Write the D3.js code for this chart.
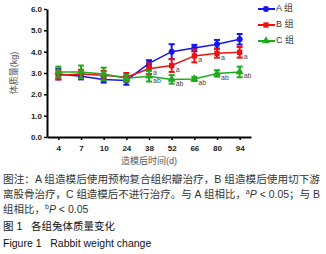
<!DOCTYPE html>
<html lang="zh">
<head>
<meta charset="UTF-8">
<title>各组兔体质量变化</title>
<script src="https://cdn.jsdelivr.net/npm/d3@7"></script>
<style>
  body { margin: 0; background: #fff; }
  svg { display: block; }
</style>
</head>
<body>
<div id="chart"></div>
<script>
// 造模后时间(d)
const days = ['4', '7', '10', '24', '38', '52', '66', '80', '94'];
// 各组体质量均值 (kg)
const groupA = [2.95, 2.85, 2.70, 2.65, 3.45, 4.00, 4.17, 4.35, 4.58];
const groupB = [2.90, 2.95, 2.90, 2.80, 3.20, 3.35, 3.80, 3.92, 3.97];
const groupC = [3.05, 3.05, 2.95, 2.75, 2.85, 2.70, 2.72, 2.98, 3.05];
// 标准差
const errA = [0.25, 0.15, 0.15, 0.20, 0.15, 0.35, 0.15, 0.20, 0.25];
const errB = [0.20, 0.20, 0.20, 0.20, 0.25, 0.30, 0.30, 0.20, 0.25];
const errC = [0.25, 0.30, 0.30, 0.15, 0.25, 0.20, 0.10, 0.15, 0.25];
// 显著性标注
const markB = ['', '', '', '', 'a', 'a', 'a', 'a', 'a'];
const markC = ['', '', '', '', 'ab', 'ab', 'ab', 'ab', 'ab'];
const yTicks = [0, 1, 2, 3, 4, 5, 6];

const groups = [
  { name: 'A 组', values: groupA, err: errA, marks: null, color: '#1515f0', shape: d3.symbolCircle },
  { name: 'B 组', values: groupB, err: errB, marks: markB, color: '#ee1111', shape: d3.symbolSquare },
  { name: 'C 组', values: groupC, err: errC, marks: markC, color: '#1faa1f', shape: d3.symbolTriangle }
];

const width = 326, height = 254;
const latin = '"Liberation Sans", Arial, "Noto Sans CJK SC", sans-serif';

const svg = d3.select('#chart').append('svg')
  .attr('width', width)
  .attr('height', height)
  .style('font-family', latin);

const x = d3.scalePoint().domain(days).range([47, 251]).padding(0.5);
const y = d3.scaleLinear().domain([0, 6]).range([137, 9]);

// 坐标轴
const xAxis = svg.append('g')
  .attr('transform', `translate(0, ${y(0)})`)
  .call(d3.axisBottom(x).tickSize(3).tickSizeOuter(0));
const yAxis = svg.append('g')
  .attr('transform', `translate(${x.range()[0]}, 0)`)
  .call(d3.axisLeft(y).tickValues(yTicks).tickFormat(d3.format('.1f')).tickSize(3).tickSizeOuter(0));

[xAxis, yAxis].forEach(ax => {
  ax.select('.domain').attr('stroke', '#000').attr('stroke-width', 2);
  ax.selectAll('.tick line').attr('stroke', '#000').attr('stroke-width', 1.5);
  ax.selectAll('.tick text')
    .attr('font-size', 8)
    .attr('font-weight', 'bold')
    .attr('fill', '#222')
    .style('font-family', latin);
});
xAxis.selectAll('.tick text').attr('dy', '1.0em');
yAxis.selectAll('.tick text').attr('x', -5);

// 轴标题
svg.append('text')
  .attr('transform', `translate(15, ${y(3)}) rotate(-90)`)
  .attr('text-anchor', 'middle')
  .attr('dominant-baseline', 'middle')
  .attr('font-size', 9)
  .attr('fill', '#555')
  .text('体质量(kg)');

svg.append('text')
  .attr('x', 149)
  .attr('y', 164)
  .attr('text-anchor', 'middle')
  .attr('font-size', 9)
  .attr('fill', '#555')
  .text('造模后时间(d)');

const line = d3.line()
  .x((d, i) => x(days[i]))
  .y(d => y(d));

groups.forEach(g => {
  const layer = svg.append('g');
  layer.append('path')
    .attr('d', line(g.values))
    .attr('fill', 'none')
    .attr('stroke', g.color)
    .attr('stroke-width', 1.5);

  // 误差线
  g.values.forEach((v, i) => {
    const cx = x(days[i]);
    const top = y(v + g.err[i]);
    const bot = y(v - g.err[i]);
    layer.append('line')
      .attr('x1', cx).attr('x2', cx)
      .attr('y1', top).attr('y2', bot)
      .attr('stroke', g.color).attr('stroke-width', 2);
    [top, bot].forEach(cy => {
      layer.append('line')
        .attr('x1', cx - 3).attr('x2', cx + 3)
        .attr('y1', cy).attr('y2', cy)
        .attr('stroke', g.color).attr('stroke-width', 2);
    });
  });

  layer.selectAll('path.pt')
    .data(g.values)
    .enter()
    .append('path')
    .attr('class', 'pt')
    .attr('transform', (d, i) => `translate(${x(days[i])}, ${y(d)})`)
    .attr('d', d3.symbol().type(g.shape).size(28))
    .attr('fill', g.color);

  if (g.marks) {
    layer.selectAll('text.mk')
      .data(g.values)
      .enter()
      .append('text')
      .attr('class', 'mk')
      .attr('x', (d, i) => x(days[i]) + 4)
      .attr('y', d => y(d) + 6.5)
      .attr('font-size', 7)
      .attr('fill', '#444')
      .text((d, i) => g.marks[i]);
  }
});

// 图例
const legend = svg.append('g');
groups.forEach((g, i) => {
  const ly = 9 + i * 16;
  legend.append('line')
    .attr('x1', 258).attr('x2', 275)
    .attr('y1', ly).attr('y2', ly)
    .attr('stroke', g.color).attr('stroke-width', 2);
  legend.append('path')
    .attr('transform', `translate(266, ${ly})`)
    .attr('d', d3.symbol().type(g.shape).size(28))
    .attr('fill', g.color);
  legend.append('text')
    .attr('x', 276)
    .attr('y', ly)
    .attr('dominant-baseline', 'middle')
    .attr('font-size', 9)
    .attr('fill', '#333')
    .text(g.name);
});

// 图注
const cap = svg.append('g')
  .attr('font-size', 10.5)
  .attr('fill', '#333');

cap.append('text')
  .attr('x', 3).attr('y', 183)
  .attr('textLength', 317).attr('lengthAdjust', 'spacingAndGlyphs')
  .text('图注：A 组造模后使用预构复合组织瓣治疗，B 组造模后使用切下游');

const l2 = cap.append('text')
  .attr('x', 3).attr('y', 198)
  .attr('textLength', 317).attr('lengthAdjust', 'spacingAndGlyphs');
l2.append('tspan').text('离股骨治疗，C 组造模后不进行治疗。与 A 组相比，');
l2.append('tspan').attr('font-size', 7).attr('dy', -4).text('a');
l2.append('tspan').attr('font-style', 'italic').attr('dy', 4).text('P');
l2.append('tspan').text(' < 0.05；与 B');

const l3 = cap.append('text')
  .attr('x', 3).attr('y', 213);
l3.append('tspan').text('组相比，');
l3.append('tspan').attr('font-size', 7).attr('dy', -4).text('b');
l3.append('tspan').attr('font-style', 'italic').attr('dy', 4).text('P');
l3.append('tspan').text(' < 0.05');

cap.append('text')
  .attr('x', 3).attr('y', 230)
  .attr('fill', '#111')
  .attr('xml:space', 'preserve')
  .text('图 1   各组兔体质量变化');

cap.append('text')
  .attr('x', 3).attr('y', 247)
  .attr('fill', '#111')
  .attr('xml:space', 'preserve')
  .text('Figure 1   Rabbit weight change');
</script>
</body>
</html>
